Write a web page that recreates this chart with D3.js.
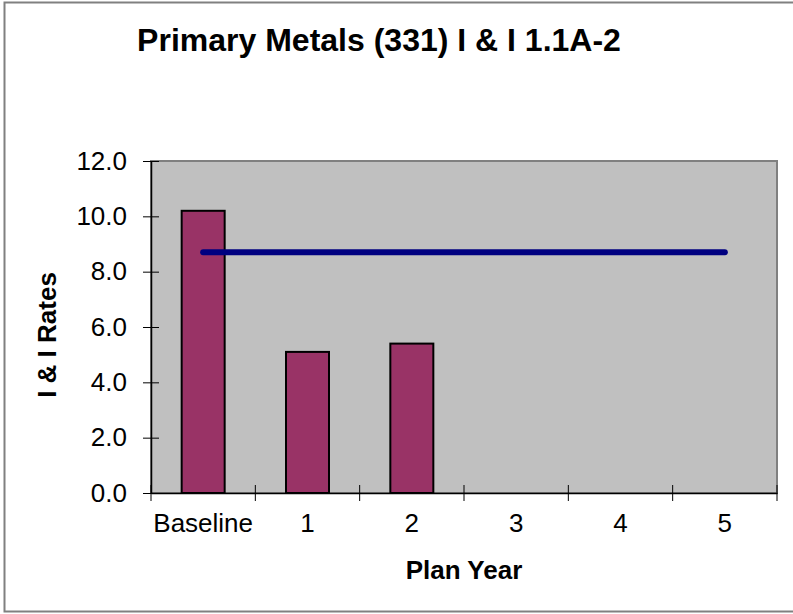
<!DOCTYPE html>
<html>
<head>
<meta charset="utf-8">
<script src="https://cdn.jsdelivr.net/npm/d3@7"></script>
<style>
  body { margin: 0; background: #fff; }
  svg { display: block; font-family: "Liberation Sans", Arial, sans-serif; }
</style>
</head>
<body>
<div id="chart"></div>
<script>
const categories = ["Baseline", "1", "2", "3", "4", "5"];
const rates = [10.2, 5.1, 5.4, null, null, null];
const target = [8.7, 8.7, 8.7, 8.7, 8.7, 8.7];
const yTicks = [0, 2, 4, 6, 8, 10, 12];

const width = 793;
const height = 614;
const plot = { left: 151, right: 777, top: 161, bottom: 493 };
const font = "Liberation Sans, Arial, sans-serif";

const svg = d3.select("#chart")
  .append("svg")
  .attr("width", width)
  .attr("height", height);

// outer frame
svg.append("rect")
  .attr("x", 4.5).attr("y", 2.5)
  .attr("width", width + 10).attr("height", 609)
  .attr("fill", "#fff")
  .attr("stroke", "#808080")
  .attr("stroke-width", 2);

const x = d3.scaleBand()
  .domain(categories)
  .range([plot.left, plot.right]);

const y = d3.scaleLinear()
  .domain([0, 12])
  .range([plot.bottom, plot.top]);

// plot area
svg.append("rect")
  .attr("x", plot.left).attr("y", plot.top)
  .attr("width", plot.right - plot.left)
  .attr("height", plot.bottom - plot.top)
  .attr("fill", "#c0c0c0")
  .attr("stroke", "#808080")
  .attr("stroke-width", 2);

// bars
const barW = 43;
svg.append("g")
  .selectAll("rect")
  .data(categories.filter((c, i) => rates[i] != null))
  .join("rect")
  .attr("x", (d) => x(d) + x.bandwidth() / 2 - barW / 2)
  .attr("y", (d) => y(rates[categories.indexOf(d)]))
  .attr("width", barW)
  .attr("height", (d) => y(0) - y(rates[categories.indexOf(d)]))
  .attr("fill", "#993366")
  .attr("stroke", "#000")
  .attr("stroke-width", 2);

// target line
const line = d3.line()
  .x((d, i) => x(categories[i]) + x.bandwidth() / 2)
  .y((d) => y(d));

svg.append("path")
  .datum(target)
  .attr("fill", "none")
  .attr("stroke", "#000080")
  .attr("stroke-width", 6)
  .attr("stroke-linecap", "round")
  .attr("d", line);

// y axis
const yAxis = svg.append("g")
  .attr("transform", `translate(${plot.left},0)`)
  .call(d3.axisLeft(y).tickValues(yTicks).tickFormat(d3.format(".1f")).tickSizeInner(8).tickSizeOuter(0).tickPadding(16));
yAxis.select(".domain").attr("stroke", "#000").attr("stroke-width", 1.5);
yAxis.selectAll(".tick line").attr("stroke", "#000").attr("x2", 8).attr("x1", -8);
yAxis.selectAll("text").attr("font-size", 26).attr("fill", "#000").attr("font-family", font);

// x axis
const xAxis = svg.append("g")
  .attr("transform", `translate(0,${plot.bottom})`)
  .call(d3.axisBottom(x).tickSize(0).tickPadding(21));
xAxis.select(".domain").attr("stroke", "#000").attr("stroke-width", 1.5);
xAxis.selectAll("text").attr("font-size", 26).attr("fill", "#000").attr("font-family", font);

// category boundary ticks
const bounds = categories.map((c) => x(c)).concat([plot.right]);
svg.append("g")
  .selectAll("line")
  .data(bounds)
  .join("line")
  .attr("x1", (d) => d).attr("x2", (d) => d)
  .attr("y1", plot.bottom - 8).attr("y2", plot.bottom + 8)
  .attr("stroke", "#000")
  .attr("stroke-width", 1);

// titles
svg.append("text")
  .attr("x", 379).attr("y", 51)
  .attr("text-anchor", "middle")
  .attr("font-size", 32).attr("font-weight", "bold")
  .text("Primary Metals (331) I & I 1.1A-2");

svg.append("text")
  .attr("x", 464).attr("y", 579)
  .attr("text-anchor", "middle")
  .attr("font-size", 26).attr("font-weight", "bold")
  .text("Plan Year");

svg.append("text")
  .attr("transform", "translate(56,335) rotate(-90)")
  .attr("text-anchor", "middle")
  .attr("font-size", 26).attr("font-weight", "bold")
  .text("I & I Rates");
</script>
</body>
</html>
